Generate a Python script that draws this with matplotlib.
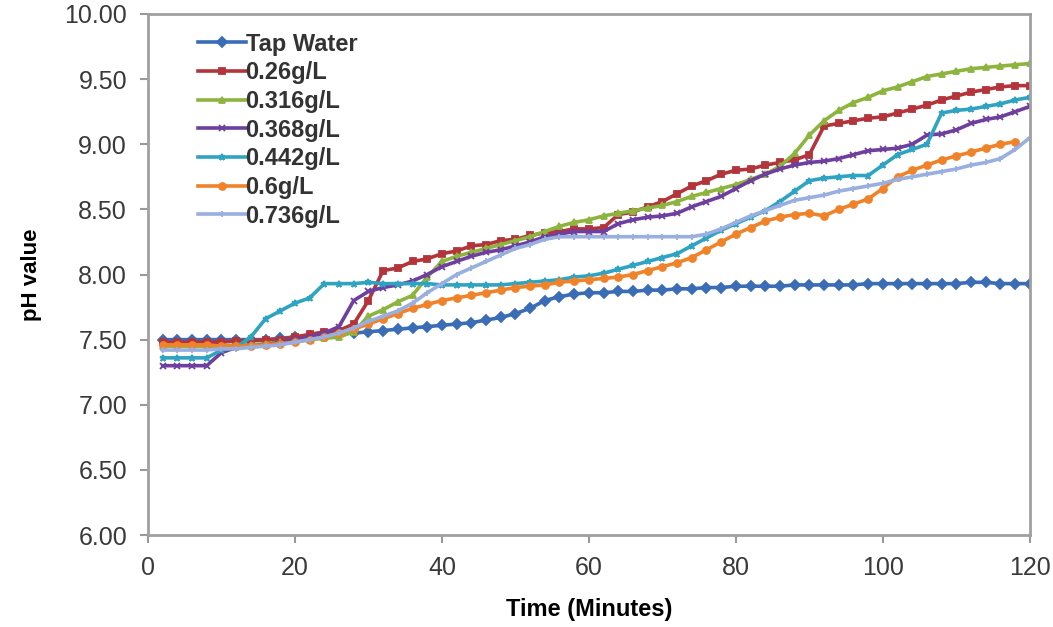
import matplotlib
matplotlib.use("Agg")
import matplotlib.pyplot as plt
import numpy as np

plt.rcParams['font.family'] = ['Liberation Sans', 'DejaVu Sans']

# time in minutes, one reading every 2 minutes
time = np.arange(2, 121, 2)

tap_water = [7.50, 7.50, 7.50, 7.50, 7.50, 7.50, 7.50, 7.50, 7.51, 7.52,
             7.53, 7.54, 7.55, 7.55, 7.56, 7.57, 7.58, 7.59, 7.60, 7.61,
             7.62, 7.63, 7.65, 7.67, 7.70, 7.74, 7.80, 7.83, 7.85, 7.86,
             7.86, 7.87, 7.87, 7.88, 7.88, 7.89, 7.89, 7.90, 7.90, 7.91,
             7.91, 7.91, 7.91, 7.92, 7.92, 7.92, 7.92, 7.92, 7.93, 7.93,
             7.93, 7.93, 7.93, 7.93, 7.93, 7.94, 7.94, 7.93, 7.93, 7.93]
c_026 = [7.48, 7.48, 7.48, 7.48, 7.48, 7.49, 7.49, 7.50, 7.50, 7.52,
         7.54, 7.56, 7.57, 7.62, 7.80, 8.03, 8.05, 8.10, 8.12, 8.16,
         8.18, 8.22, 8.23, 8.26, 8.27, 8.30, 8.32, 8.33, 8.35, 8.35,
         8.36, 8.46, 8.48, 8.52, 8.56, 8.62, 8.68, 8.72, 8.77, 8.80,
         8.81, 8.84, 8.86, 8.88, 8.92, 9.14, 9.16, 9.18, 9.20, 9.21,
         9.24, 9.27, 9.30, 9.34, 9.37, 9.40, 9.42, 9.44, 9.45, 9.45]
c_0316 = [7.45, 7.45, 7.45, 7.45, 7.45, 7.46, 7.46, 7.47, 7.48, 7.49,
          7.50, 7.51, 7.52, 7.56, 7.68, 7.73, 7.79, 7.84, 7.98, 8.10,
          8.14, 8.17, 8.20, 8.23, 8.26, 8.29, 8.33, 8.37, 8.40, 8.42,
          8.45, 8.47, 8.49, 8.51, 8.53, 8.56, 8.60, 8.63, 8.66, 8.69,
          8.73, 8.77, 8.83, 8.93, 9.07, 9.18, 9.26, 9.32, 9.36, 9.41,
          9.44, 9.48, 9.52, 9.54, 9.56, 9.58, 9.59, 9.60, 9.61, 9.62]
c_0368 = [7.30, 7.30, 7.30, 7.30, 7.40, 7.44, 7.45, 7.46, 7.48, 7.50,
          7.52, 7.55, 7.60, 7.80, 7.87, 7.90, 7.92, 7.95, 8.00, 8.06,
          8.10, 8.14, 8.17, 8.19, 8.22, 8.25, 8.29, 8.31, 8.33, 8.33,
          8.33, 8.39, 8.42, 8.44, 8.45, 8.47, 8.52, 8.56, 8.60, 8.66,
          8.72, 8.77, 8.81, 8.84, 8.86, 8.87, 8.89, 8.92, 8.95, 8.96,
          8.97, 9.00, 9.07, 9.08, 9.11, 9.16, 9.19, 9.21, 9.25, 9.29]
c_0442 = [7.36, 7.36, 7.36, 7.36, 7.42, 7.44, 7.52, 7.66, 7.72, 7.78,
          7.82, 7.93, 7.93, 7.93, 7.94, 7.93, 7.93, 7.93, 7.93, 7.92,
          7.92, 7.92, 7.92, 7.92, 7.93, 7.94, 7.95, 7.96, 7.98, 7.99,
          8.01, 8.04, 8.07, 8.10, 8.13, 8.16, 8.22, 8.28, 8.34, 8.39,
          8.44, 8.49, 8.56, 8.64, 8.72, 8.74, 8.75, 8.76, 8.76, 8.84,
          8.92, 8.96, 9.00, 9.24, 9.26, 9.27, 9.29, 9.31, 9.34, 9.36]
c_06 = [7.46, 7.46, 7.46, 7.46, 7.45, 7.45, 7.45, 7.46, 7.47, 7.48,
        7.50, 7.52, 7.55, 7.58, 7.62, 7.66, 7.70, 7.74, 7.77, 7.80,
        7.82, 7.84, 7.86, 7.88, 7.90, 7.91, 7.92, 7.94, 7.95, 7.96,
        7.97, 7.98, 8.00, 8.03, 8.06, 8.09, 8.13, 8.19, 8.25, 8.31,
        8.36, 8.41, 8.44, 8.46, 8.47, 8.45, 8.50, 8.54, 8.58, 8.66,
        8.75, 8.80, 8.84, 8.88, 8.91, 8.94, 8.97, 9.00, 9.02]
c_0736 = [7.42, 7.42, 7.42, 7.42, 7.43, 7.43, 7.44, 7.45, 7.46, 7.48,
          7.50, 7.52, 7.55, 7.59, 7.64, 7.68, 7.72, 7.78, 7.86, 7.93,
          8.00, 8.05, 8.10, 8.15, 8.20, 8.23, 8.27, 8.29, 8.29, 8.29,
          8.29, 8.29, 8.29, 8.29, 8.29, 8.29, 8.29, 8.31, 8.35, 8.40,
          8.45, 8.49, 8.53, 8.57, 8.59, 8.61, 8.64, 8.66, 8.68, 8.70,
          8.73, 8.75, 8.77, 8.79, 8.81, 8.84, 8.86, 8.89, 8.96, 9.05]

series = [
    ('Tap Water', tap_water, '#3a6db5', 'D'),
    ('0.26g/L', c_026, '#b3343a', 's'),
    ('0.316g/L', c_0316, '#8db43e', '^'),
    ('0.368g/L', c_0368, '#6e3f9e', 'x'),
    ('0.442g/L', c_0442, '#2fa4c2', '*'),
    ('0.6g/L', c_06, '#f0822a', 'o'),
    ('0.736g/L', c_0736, '#98afe0', '+'),
]

fig = plt.figure(figsize=(10.53, 6.27), dpi=100)
ax = fig.add_axes([0.1405, 0.1467, 0.8375, 0.831])

for name, vals, col, mk in series:
    ax.plot(time[:len(vals)], vals, color=col, marker=mk, markersize=5,
            linewidth=2.6, markeredgewidth=1.3, label=name)

ax.set_xlim(0, 120)
ax.set_ylim(6, 10)
ax.set_xticks(np.arange(0, 121, 20))
ax.set_yticks(np.arange(6, 10.01, 0.5))
ax.set_yticklabels(['%.2f' % v for v in np.arange(6, 10.01, 0.5)])
ax.tick_params(labelsize=18, labelcolor='#3a3a3a', color='#999999',
               length=6, width=1.5)
ax.tick_params(axis='y', pad=9)
ax.tick_params(axis='x', pad=9)
for s in ax.spines.values():
    s.set_color('#a0a0a0')
    s.set_linewidth(2)

ax.set_xlabel('Time (Minutes)', fontsize=17, fontweight='bold', labelpad=13)
ax.set_ylabel('pH value', fontsize=16, fontweight='bold', labelpad=16)

ax.legend(loc='upper left', bbox_to_anchor=(0.033, 1.005), frameon=False,
          prop={'size': 17, 'weight': 'bold'}, handlelength=2.0,
          handletextpad=0.0, labelspacing=0.24, labelcolor='#333333')

plt.savefig('out.png', dpi=100)
